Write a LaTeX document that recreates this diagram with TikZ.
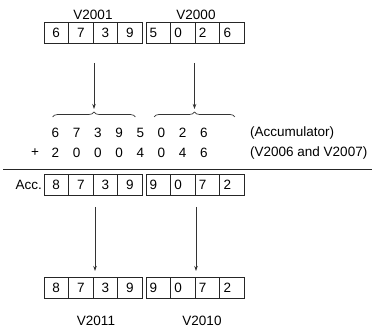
\documentclass[tikz,border=0pt]{standalone}
\usepackage{fontspec}
\setmainfont{Liberation Sans}
\usetikzlibrary{arrows.meta,decorations.pathreplacing}

\tikzset{
  cell/.style={draw=black!85, line width=0.8pt, minimum width=24.6pt,
    minimum height=21pt, inner sep=0pt, anchor=west},
  cellleft/.style={cell, text width=17pt, align=left},
  flow/.style={draw=black!80, line width=0.7pt, -{Stealth[length=5pt,width=3.5pt]}},
  curly/.style={draw=black!80, line width=0.7pt, decorate,
    decoration={brace, amplitude=5pt}}
}

\begin{document}
\begin{tikzpicture}[x=1pt, y=-1pt, every node/.style={font=\fontsize{13.5pt}{16pt}\selectfont}]
  \useasboundingbox (0,0) rectangle (389,331);

  % Source registers
  \node (lblA) at (93, 15) {V2001};
  \node (lblB) at (196, 15) {V2000};
  \foreach \d [count=\i] in {6,7,3,9}
    \node[cell] (vhi\i) at ({43.5+24.6*(\i-1)}, 33) {\d};
  \foreach \d [count=\i] in {5,0,2,6}
    \node[cellleft] (vlo\i) at ({145.5+24.6*(\i-1)}, 33) {\d};

  % Load into accumulator
  \coordinate (srcA) at (94, 63);
  \coordinate (srcB) at (194.5, 63);
  \coordinate (tipA) at (94, 109);
  \coordinate (tipB) at (194.5, 109);
  \draw[curly] (52.7, 117) -- (135.3, 117);
  \draw[curly] (154, 117) -- (235, 117);
  \draw[flow] (srcA) -- (tipA);
  \draw[flow] (srcB) -- (tipB);

  % Addition rows
  \foreach \d [count=\i] in {6,7,3,9,5,0,2,6}
    \node (top\i) at ({55.5+21.2*(\i-1)}, 133) {\d};
  \node (plus) at (35, 153) {+};
  \foreach \d [count=\i] in {2,0,0,0,4,0,4,6}
    \node (add\i) at ({55.5+21.2*(\i-1)}, 153) {\d};
  \node[right, inner sep=0pt] (accnote) at (250, 133) {(Accumulator)};
  \node[right, inner sep=0pt] (addnote) at (250, 153) {(V2006 and V2007)};

  % Sum line
  \draw[black!85, line width=0.8pt] (3, 169.3) -- (372, 169.3);

  % Accumulator result
  \node[left, inner sep=1pt] (acclbl) at (43, 184.5) {Acc.};
  \foreach \d [count=\i] in {8,7,3,9}
    \node[cell] (acchi\i) at ({43.5+24.6*(\i-1)}, 184.5) {\d};
  \foreach \d [count=\i] in {9,0,7,2}
    \node[cellleft] (acclo\i) at ({145.5+24.6*(\i-1)}, 184.5) {\d};

  % Store
  \coordinate (outA) at (95, 207);
  \coordinate (outB) at (196, 207);
  \coordinate (inA) at (95, 271);
  \coordinate (inB) at (196, 271);
  \draw[flow] (outA) -- (inA);
  \draw[flow] (outB) -- (inB);

  % Destination registers
  \foreach \d [count=\i] in {8,7,3,9}
    \node[cell] (rhi\i) at ({43.5+24.6*(\i-1)}, 287.5) {\d};
  \foreach \d [count=\i] in {9,0,7,2}
    \node[cellleft] (rlo\i) at ({145.5+24.6*(\i-1)}, 287.5) {\d};
  \node (lblC) at (96, 321) {V2011};
  \node (lblD) at (202, 321) {V2010};
\end{tikzpicture}
\end{document}
